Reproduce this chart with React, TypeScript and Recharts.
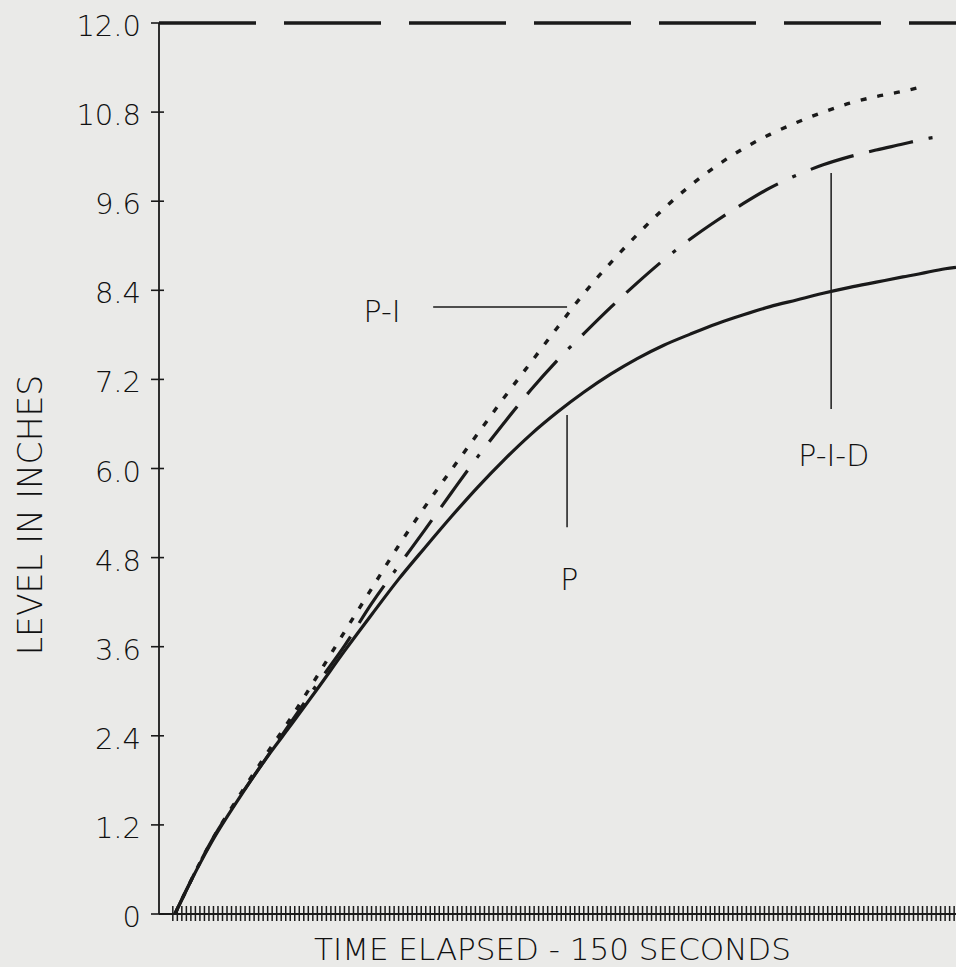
import React from 'react';
import { LineChart, Line, XAxis, YAxis, ReferenceLine, ReferenceDot } from 'recharts';

// Time in seconds
const TIME = [3, 5, 10, 15, 20, 25, 30, 35, 40, 45, 50, 55, 60, 65, 70, 75, 80, 85, 90, 95, 100, 105, 110, 115, 120, 125, 130, 135, 140, 143, 145, 148, 150];
// P controller (solid)
const P_LEVEL = [0, 0.3, 0.98, 1.55, 2.08, 2.56, 3.05, 3.55, 4.03, 4.5, 4.93, 5.35, 5.75, 6.12, 6.46, 6.76, 7.03, 7.27, 7.48, 7.66, 7.81, 7.95, 8.07, 8.18, 8.27, 8.36, 8.44, 8.51, 8.58, 8.62, 8.65, 8.69, 8.71];
// P-I controller (dotted)
const PI_LEVEL = [0, 0.3, 1.0, 1.58, 2.13, 2.66, 3.23, 3.81, 4.38, 4.95, 5.48, 5.98, 6.47, 6.96, 7.43, 7.9, 8.36, 8.77, 9.15, 9.5, 9.81, 10.08, 10.31, 10.5, 10.66, 10.8, 10.92, 11.01, 11.08, 11.13, null, null, null];
// P-I-D controller (dash-dot)
const PID_LEVEL = [0, 0.3, 1.0, 1.56, 2.08, 2.6, 3.12, 3.62, 4.18, 4.68, 5.17, 5.67, 6.16, 6.62, 7.06, 7.46, 7.82, 8.17, 8.5, 8.81, 9.09, 9.34, 9.57, 9.78, 9.95, 10.09, 10.2, 10.29, 10.37, 10.42, 10.45, 10.47, null];

const Y_TICKS = [0, 1.2, 2.4, 3.6, 4.8, 6.0, 7.2, 8.4, 9.6, 10.8, 12.0];
const Y_TICK_LABELS = ['0', '1.2', '2.4', '3.6', '4.8', '6.0', '7.2', '8.4', '9.6', '10.8', '12.0'];
const X_TICK_START = 2.6;
const X_TICK_STEP = 0.85;
const X_TICKS: number[] = [];
for (let t = X_TICK_START; t <= 150; t += X_TICK_STEP) X_TICKS.push(Math.round(t * 100) / 100);

const SETPOINT = 12;
const X_LABEL = 'TIME ELAPSED - 150 SECONDS';
const Y_LABEL = 'LEVEL IN INCHES';

// annotation pointers (data coordinates)
const ANNOT_SEGMENTS = [
  [{ x: 51.6, y: 8.175 }, { x: 76.8, y: 8.175 }],
  [{ x: 76.8, y: 6.72 }, { x: 76.8, y: 5.21 }],
  [{ x: 126.5, y: 9.98 }, { x: 126.5, y: 6.8 }],
];
const ANNOT_TEXTS = [
  { text: 'P-I', t: 42.0, v: 7.97 },
  { text: 'P', t: 77.2, v: 4.36 },
  { text: 'P-I-D', t: 127.0, v: 6.03 },
];

const data = TIME.map((t, i) => ({ t, p: P_LEVEL[i], pi: PI_LEVEL[i], pid: PID_LEVEL[i] }));

const INK = '#1a1a1a';
const TEXT_INK = '#111111';
const FONT = '"DejaVu Sans", sans-serif';
const FW = 200;

const YTick = (props: any) => {
  const { x, y, payload } = props;
  const idx = Y_TICKS.indexOf(payload.value);
  const label = idx >= 0 ? Y_TICK_LABELS[idx] : String(payload.value);
  return (
    <g>
      <line x1={x - 8} x2={x + 5} y1={y} y2={y} stroke={INK} strokeWidth={1.6} />
      <text x={x - 18} y={y + 13} textAnchor="end" fontFamily={FONT} fontWeight={FW} fontSize={29} fill={TEXT_INK}>{label}</text>
    </g>
  );
};

const XTick = (props: any) => {
  const { x, y } = props;
  return <line x1={x} x2={x} y1={y - 8} y2={y + 7} stroke={INK} strokeWidth={1.5} />;
};

export default function App() {
  return (
    <div style={{ position: 'absolute', left: 0, top: 0, width: 956, height: 967, background: '#eaeae8', overflow: 'hidden' }}>
      <LineChart width={956} height={967} data={data} margin={{ top: 23, right: 0, left: 0, bottom: 0 }}>
        <XAxis
          dataKey="t"
          type="number"
          domain={[0, 150]}
          ticks={X_TICKS}
          interval={0}
          height={53}
          tickSize={0}
          tickMargin={0}
          tickLine={false}
          tick={<XTick />}
          axisLine={{ stroke: INK, strokeWidth: 2 }}
          allowDataOverflow
          label={{
            content: (p: any) => {
              const vb = p.viewBox;
              return (
                <text x={vb.x + vb.width / 2 - 5} y={vb.y + 46} textAnchor="middle" fontFamily={FONT} fontWeight={FW} fontSize={31} fill={TEXT_INK}>{X_LABEL}</text>
              );
            },
          }}
        />
        <YAxis
          type="number"
          domain={[0, 12]}
          ticks={Y_TICKS}
          interval={0}
          width={159}
          tickSize={0}
          tickMargin={0}
          tickLine={false}
          tick={<YTick />}
          axisLine={{ stroke: INK, strokeWidth: 1.8 }}
          allowDataOverflow
          label={{
            content: () => (
              <text x={42} y={515} transform="rotate(-90, 42, 515)" textAnchor="middle" fontFamily={FONT} fontWeight={FW} fontSize={33} fill={TEXT_INK}>{Y_LABEL}</text>
            ),
          }}
        />
        <ReferenceLine y={SETPOINT} stroke={INK} strokeWidth={3.5} strokeDasharray="97 28" />
        {ANNOT_SEGMENTS.map((seg, i) => (
          <ReferenceLine key={'s' + i} segment={seg} stroke={INK} strokeWidth={1.5} />
        ))}
        {ANNOT_TEXTS.map((a, i) => (
          <ReferenceDot
            key={'t' + i}
            x={a.t}
            y={a.v}
            r={1}
            shape={(p: any) => (
              <text x={p.cx} y={p.cy} textAnchor="middle" fontFamily={FONT} fontWeight={FW} fontSize={30} fill={TEXT_INK}>{a.text}</text>
            )}
          />
        ))}
        <Line type="monotone" dataKey="p" stroke={INK} strokeWidth={3.2} dot={false} isAnimationActive={false} />
        <Line type="monotone" dataKey="pi" stroke={INK} strokeWidth={3.4} strokeDasharray="6 11" dot={false} isAnimationActive={false} />
        <Line type="monotone" dataKey="pid" stroke={INK} strokeWidth={3.2} strokeDasharray="45 16 45 16 4 16" dot={false} isAnimationActive={false} />
      </LineChart>
    </div>
  );
}
